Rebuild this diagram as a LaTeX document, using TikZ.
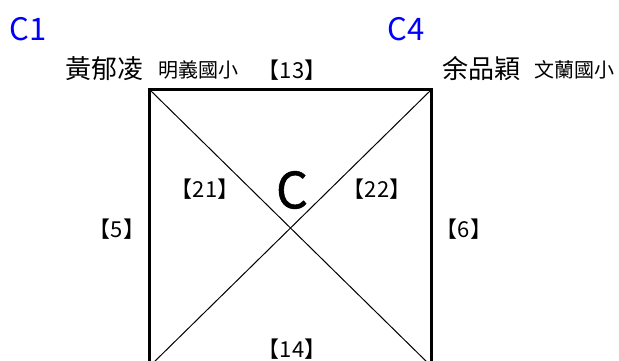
\documentclass[tikz,border=0pt]{standalone}
\usepackage{fontspec}
\setmainfont{Noto Sans CJK TC}
\newfontfamily\heavyfont[FakeBold=1]{Noto Sans CJK TC}
\definecolor{labelblue}{RGB}{0,0,255}
\begin{document}
\begin{tikzpicture}[x=1pt,y=-1pt,
  every node/.style={inner sep=0pt,outer sep=0pt,anchor=center},
  corner/.style={font=\fontsize{31}{31}\selectfont,text=labelblue},
  person/.style={font=\fontsize{26}{26}\selectfont},
  school/.style={font=\fontsize{20}{20}\selectfont},
  num/.style={font=\fontsize{22}{22}\selectfont},
  big/.style={font=\heavyfont\fontsize{50}{50}\selectfont},
  edge/.style={line width=3pt},
  diag/.style={line width=1pt}]
\useasboundingbox (0,0) rectangle (619,360);
\node[draw,edge,rectangle,minimum width=282pt,minimum height=277pt] (box) at (290.5,228) {};
\draw[diag] (box.north west) -- (box.south east);
\draw[diag] (box.north east) -- (box.south west);
\node[corner] (c1) at (28,29) {C1};
\node[corner] (c4) at (406,29) {C4};
\node[person] (p1) at (104,69) {黃郁凌};
\node[school] (s1) at (198,70) {明義國小};
\node[num] (n13) at (292,70) {【13】};
\node[person] (p4) at (481,69) {余品穎};
\node[school] (s4) at (574,70) {文蘭國小};
\node[num] (n21) at (205,189) {【21】};
\node[num] (n22) at (377,189) {【22】};
\node[num] (n5) at (117,229) {【5】};
\node[num] (n6) at (464,229) {【6】};
\node[num] (n14) at (292,349) {【14】};
\node[big] (cc) at (292,190) {C};
\end{tikzpicture}
\end{document}
